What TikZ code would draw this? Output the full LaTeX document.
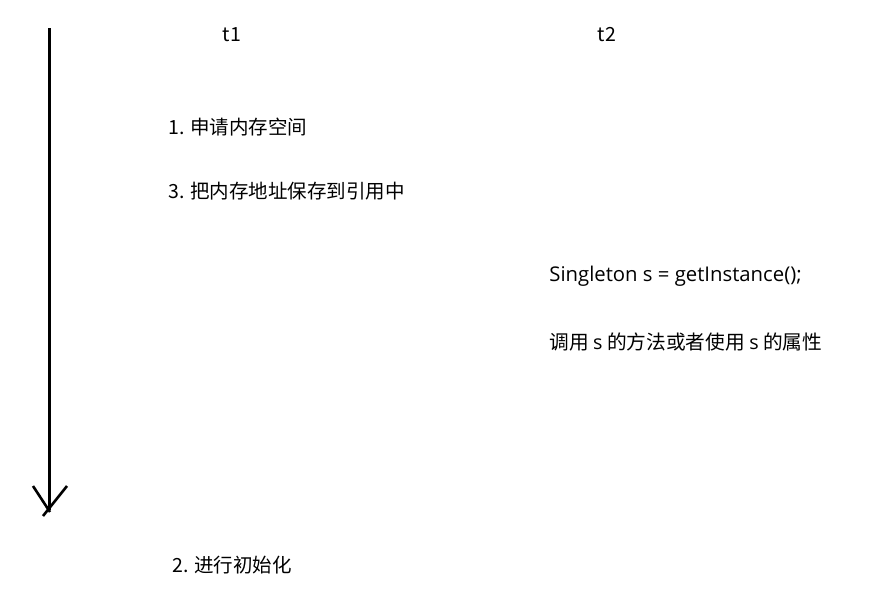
\documentclass[tikz,border=0pt]{standalone}
\usepackage{fontspec}
\setmainfont{Noto Sans CJK SC}
\newfontfamily\latinfont{Open Sans}
\usetikzlibrary{positioning}

\begin{document}
\begin{tikzpicture}[x=1pt,y=-1pt,thick,
    step text/.style={anchor=west,inner sep=0pt,font=\fontsize{19.5}{22}\selectfont},
    thread label/.style={inner sep=0pt,font=\fontsize{19.5}{22}\selectfont}]
  \useasboundingbox (0,0) rectangle (891,592);

  % time axis
  \coordinate (top) at (49,28);
  \coordinate (barbL) at (33,486);
  \coordinate (barbR) at (67,486);
  \coordinate (endL) at (50,512);
  \coordinate (endR) at (43,516);
  \draw[line width=3pt] (top) -- (49,510);
  \draw[line width=2.6pt] (barbL) -- (endL);
  \draw[line width=2.6pt] (barbR) -- (endR);

  % threads
  \node[thread label] (t1) at (232,35) {t1};
  \node[thread label] (t2) at (607,35) {t2};

  % t1 steps
  \node[step text] (s1) at (168,127) {1. 申请内存空间};
  \node[step text] (s3) at (168,191) {3. 把内存地址保存到引用中};
  \node[step text] (s2) at (172,565) {2. 进行初始化};

  % t2 steps
  \node[step text,font=\fontsize{20.3}{22}\latinfont] (get) at (549,276) {Singleton s = getInstance();};
  \node[step text,font=\fontsize{19.7}{22}\selectfont] (use) at (549,342) {调用 {\latinfont s} 的方法或者使用 {\latinfont s} 的属性};
\end{tikzpicture}
\end{document}
